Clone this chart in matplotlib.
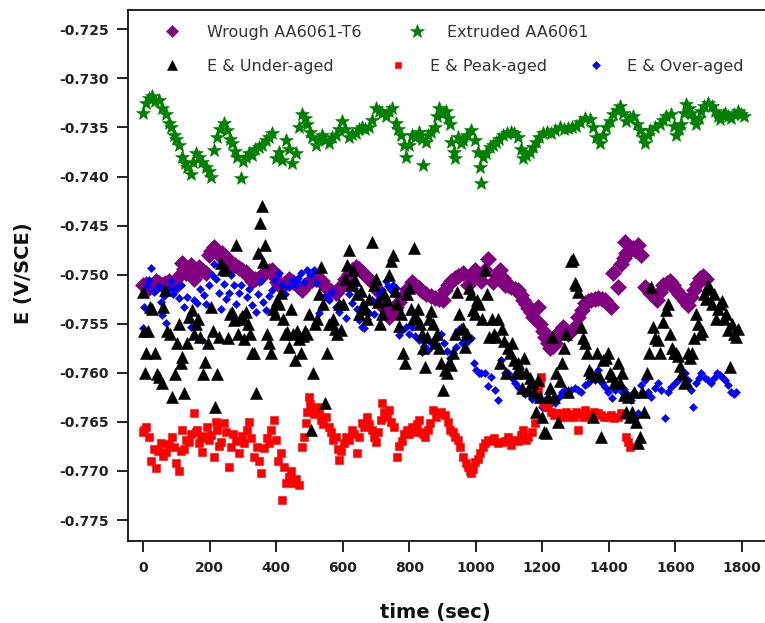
import numpy as np
import matplotlib
matplotlib.use('Agg')
import matplotlib.pyplot as plt
from matplotlib.lines import Line2D
from matplotlib.legend import Legend
from matplotlib.ticker import FormatStrFormatter

plt.rcParams['font.family'] = 'DejaVu Sans'
plt.rcParams['axes.unicode_minus'] = False

# Open-circuit potential vs time, potentials in mV vs SCE

# Wrough AA6061-T6
t_wrought = [0, 9, 18, 27, 39, 48, 57, 66, 78, 90,
             102, 111, 117, 123, 129, 137, 144, 153, 160, 168,
             178, 189, 198, 205, 213, 220, 228, 238, 249, 258,
             267, 278, 288, 298, 309, 318, 327, 338, 348, 358,
             369, 378, 387, 395, 402, 410, 417, 428, 438, 450,
             462, 470, 477, 488, 498, 508, 519, 528, 537, 545,
             552, 565, 579, 588, 597, 608, 618, 628, 639, 648,
             657, 672, 687, 702, 717, 727, 738, 748, 759, 768,
             777, 792, 807, 818, 828, 840, 852, 865, 879, 891,
             903, 909, 918, 927, 938, 948, 963, 978, 990, 999,
             1008, 1017, 1029, 1038, 1053, 1065, 1074, 1083, 1089, 1098,
             1107, 1117, 1128, 1136, 1143, 1151, 1158, 1166, 1173, 1188,
             1194, 1202, 1209, 1217, 1224, 1232, 1239, 1248, 1256, 1263,
             1270, 1278, 1290, 1299, 1308, 1318, 1329, 1338, 1347, 1358,
             1368, 1378, 1389, 1398, 1407, 1413, 1428, 1437, 1445, 1449,
             1452, 1462, 1473, 1480, 1488, 1497, 1509, 1524, 1535, 1545,
             1554, 1563, 1574, 1584, 1593, 1602, 1611, 1620, 1629, 1638,
             1647, 1656, 1665, 1674, 1683, 1692]
e_wrought = [-751.1, -750.9, -751.4, -751.0, -750.6, -750.8, -751.1, -750.8, -750.6, -750.9,
             -751.1, -750.0, -748.8, -749.4, -749.8, -749.3, -749.0, -750.4, -749.6, -749.2,
             -749.5, -749.8, -748.0, -747.6, -747.2, -747.6, -748.0, -747.8, -748.2, -748.8,
             -749.2, -749.0, -749.3, -749.5, -749.7, -750.2, -750.6, -750.4, -750.3, -750.0,
             -749.7, -749.6, -749.5, -750.1, -750.7, -751.0, -751.3, -750.8, -750.4, -750.7,
             -751.0, -751.3, -751.6, -751.1, -750.7, -750.5, -750.3, -750.4, -750.6, -751.0,
             -751.4, -751.7, -751.9, -751.5, -751.0, -750.4, -749.9, -749.5, -749.2, -749.4,
             -749.7, -750.2, -750.7, -751.6, -752.6, -753.5, -754.3, -753.8, -753.3, -752.8,
             -752.3, -751.5, -750.7, -751.1, -751.4, -751.7, -752.0, -752.2, -752.4, -752.5,
             -752.6, -751.6, -751.1, -750.6, -750.3, -750.1, -749.8, -751.0, -750.2, -749.5,
             -750.0, -750.6, -749.5, -748.4, -750.7, -750.0, -749.5, -750.3, -751.0, -751.1,
             -751.3, -751.5, -751.6, -752.1, -752.6, -753.0, -753.4, -753.8, -754.3, -753.3,
             -755.0, -755.7, -756.4, -757.0, -757.5, -757.3, -757.0, -755.9, -755.6, -755.3,
             -755.7, -756.0, -755.6, -755.3, -754.3, -753.6, -752.9, -752.7, -752.6, -752.5,
             -752.4, -752.5, -752.6, -753.0, -753.3, -749.8, -751.3, -748.9, -748.3, -746.7,
             -747.8, -747.6, -747.3, -747.5, -747.0, -748.0, -751.3, -751.9, -752.2, -752.6,
             -751.8, -751.1, -750.8, -750.6, -751.1, -751.6, -752.0, -752.3, -752.7, -753.1,
             -752.3, -751.6, -750.9, -750.3, -750.1, -750.4]

# Extruded AA6061
t_extruded = [0, 9, 18, 27, 36, 48, 57, 69, 78, 84,
              93, 99, 108, 117, 126, 132, 144, 150, 159, 168,
              177, 189, 198, 204, 213, 222, 231, 243, 252, 261,
              267, 276, 282, 294, 300, 309, 318, 327, 336, 348,
              357, 369, 378, 387, 399, 408, 417, 429, 438, 447,
              459, 468, 477, 486, 492, 501, 507, 519, 528, 537,
              546, 558, 567, 579, 588, 597, 606, 618, 627, 639,
              648, 657, 666, 678, 687, 699, 708, 717, 729, 738,
              747, 759, 765, 774, 783, 789, 798, 807, 816, 828,
              837, 843, 852, 858, 867, 879, 885, 891, 903, 912,
              918, 924, 927, 936, 939, 948, 957, 963, 975, 987,
              999, 1008, 1014, 1017, 1023, 1032, 1044, 1053, 1062, 1071,
              1083, 1095, 1107, 1116, 1128, 1137, 1143, 1152, 1164, 1173,
              1182, 1191, 1203, 1215, 1227, 1239, 1254, 1266, 1278, 1290,
              1302, 1314, 1329, 1344, 1353, 1362, 1374, 1383, 1392, 1404,
              1413, 1425, 1434, 1443, 1452, 1464, 1473, 1485, 1494, 1503,
              1509, 1518, 1524, 1539, 1554, 1563, 1572, 1587, 1596, 1602,
              1611, 1617, 1626, 1632, 1641, 1647, 1656, 1662, 1671, 1677,
              1686, 1698, 1710, 1719, 1728, 1734, 1743, 1749, 1758, 1767,
              1776, 1788, 1797, 1805]
e_extruded = [-733.5, -732.5, -732.0, -731.8, -732.3, -732.2, -733.0, -733.6, -734.5, -735.0,
              -735.8, -736.2, -736.8, -738.0, -738.6, -739.0, -739.7, -738.5, -737.6, -738.0,
              -738.5, -739.0, -739.4, -740.0, -737.3, -736.0, -735.2, -734.5, -735.3, -736.2,
              -736.6, -737.4, -738.0, -740.1, -738.4, -738.0, -737.6, -737.8, -737.2, -737.0,
              -736.8, -736.3, -736.0, -735.6, -738.1, -737.5, -738.3, -736.3, -737.2, -738.6,
              -737.6, -735.0, -733.6, -734.0, -734.6, -735.5, -736.0, -736.8, -736.2, -735.8,
              -736.3, -736.6, -736.0, -735.8, -735.2, -734.3, -735.2, -736.0, -735.7, -735.6,
              -735.2, -735.0, -735.2, -735.0, -734.2, -733.0, -733.3, -733.5, -733.8, -733.3,
              -733.0, -734.5, -735.2, -735.8, -736.8, -738.0, -736.8, -735.8, -736.0, -735.5,
              -736.2, -738.8, -736.5, -735.8, -735.5, -735.0, -733.8, -733.0, -733.5, -733.3,
              -734.0, -734.6, -736.5, -737.5, -738.1, -736.0, -736.6, -736.3, -735.8, -735.3,
              -736.3, -737.5, -739.0, -740.7, -738.0, -737.6, -737.0, -736.8, -736.5, -736.2,
              -735.8, -735.6, -735.5, -735.6, -736.0, -737.2, -738.1, -737.8, -737.5, -737.0,
              -736.5, -736.0, -735.6, -735.5, -735.6, -735.3, -735.0, -735.2, -735.1, -735.0,
              -734.8, -734.4, -734.0, -734.1, -735.0, -736.0, -736.6, -735.8, -735.0, -734.3,
              -733.6, -733.2, -732.8, -733.5, -734.3, -734.0, -733.8, -734.6, -735.3, -736.0,
              -736.6, -735.8, -735.3, -735.0, -734.6, -734.2, -733.8, -733.6, -734.8, -735.8,
              -735.2, -734.6, -733.5, -732.6, -733.0, -733.5, -734.0, -734.6, -734.0, -733.3,
              -732.8, -732.5, -732.8, -733.3, -733.8, -734.1, -733.7, -733.5, -733.8, -734.0,
              -733.6, -733.3, -733.6, -733.8]

# E & Under-aged
t_under = [0, 2, 6, 9, 15, 21, 27, 36, 42, 48,
           57, 60, 66, 72, 81, 87, 96, 102, 108, 114,
           117, 123, 132, 138, 147, 153, 159, 165, 172, 180,
           186, 195, 204, 210, 216, 222, 228, 234, 240, 249,
           255, 261, 267, 273, 279, 285, 291, 297, 303, 309,
           315, 321, 327, 333, 339, 345, 351, 357, 360, 366,
           372, 378, 384, 390, 396, 402, 408, 414, 420, 426,
           432, 438, 444, 450, 456, 462, 468, 474, 480, 486,
           492, 498, 504, 510, 516, 522, 528, 534, 540, 546,
           552, 558, 564, 570, 576, 582, 588, 594, 600, 606,
           612, 618, 624, 630, 636, 642, 648, 654, 660, 666,
           672, 678, 687, 693, 699, 705, 711, 717, 723, 732,
           738, 744, 750, 756, 762, 768, 774, 780, 786, 792,
           798, 804, 810, 813, 819, 825, 831, 837, 843, 849,
           855, 861, 867, 873, 879, 885, 891, 897, 903, 909,
           915, 921, 927, 933, 939, 945, 951, 957, 963, 969,
           975, 981, 987, 993, 999, 1005, 1011, 1020, 1029, 1035,
           1041, 1050, 1056, 1062, 1068, 1074, 1080, 1086, 1092, 1098,
           1104, 1110, 1116, 1122, 1128, 1134, 1140, 1146, 1152, 1158,
           1164, 1170, 1176, 1182, 1188, 1194, 1200, 1206, 1212, 1218,
           1224, 1230, 1236, 1242, 1248, 1254, 1260, 1266, 1272, 1278,
           1287, 1293, 1299, 1302, 1308, 1317, 1323, 1329, 1335, 1341,
           1347, 1353, 1359, 1365, 1371, 1377, 1383, 1392, 1398, 1404,
           1410, 1416, 1422, 1428, 1434, 1440, 1446, 1452, 1458, 1464,
           1470, 1476, 1482, 1488, 1494, 1500, 1506, 1515, 1521, 1527,
           1533, 1539, 1548, 1554, 1563, 1572, 1578, 1584, 1590, 1596,
           1602, 1608, 1614, 1620, 1626, 1632, 1638, 1644, 1650, 1656,
           1662, 1668, 1674, 1680, 1686, 1692, 1698, 1704, 1710, 1716,
           1722, 1728, 1734, 1740, 1746, 1752, 1758, 1764, 1770, 1776,
           1782, 1788]
e_under = [-751.8, -755.7, -760.0, -758.0, -755.7, -753.3, -753.5, -758.0, -760.1, -760.4,
           -761.0, -753.3, -751.6, -755.7, -756.0, -762.5, -760.1, -757.0, -755.0, -759.0,
           -758.4, -762.1, -757.0, -754.3, -753.6, -756.0, -755.0, -754.5, -756.3, -760.1,
           -758.9, -757.0, -753.3, -755.7, -763.5, -760.1, -756.3, -748.8, -749.4, -749.5,
           -756.5, -754.0, -753.8, -754.6, -747.0, -756.0, -754.5, -754.2, -756.6, -753.8,
           -755.0, -756.0, -758.0, -758.0, -762.1, -747.8, -744.7, -743.0, -748.7, -747.0,
           -756.0, -757.0, -758.0, -753.5, -754.0, -752.6, -753.0, -751.9, -754.5, -756.0,
           -755.8, -757.4, -753.5, -756.0, -758.7, -755.7, -756.6, -758.0, -756.2, -755.7,
           -756.0, -754.0, -765.8, -760.0, -755.0, -754.5, -752.0, -749.2, -753.0, -763.1,
           -758.0, -755.0, -755.0, -754.5, -755.5, -756.0, -753.0, -755.6, -753.0, -750.4,
           -749.0, -747.5, -751.0, -749.5, -750.5, -752.0, -754.0, -751.7, -753.0, -753.5,
           -754.5, -752.5, -746.7, -751.0, -750.4, -752.8, -755.0, -754.0, -752.0, -752.6,
           -750.0, -748.6, -748.0, -751.7, -753.0, -755.2, -754.0, -758.0, -759.0, -752.0,
           -751.4, -753.5, -754.5, -747.3, -754.3, -753.5, -755.0, -756.0, -757.5, -759.4,
           -756.3, -754.5, -753.7, -755.0, -757.0, -756.0, -757.5, -759.0, -761.7, -759.7,
           -760.0, -759.0, -759.2, -758.0, -756.0, -751.8, -754.0, -755.5, -755.4, -757.4,
           -756.0, -751.4, -752.0, -753.6, -754.0, -752.6, -753.0, -754.5, -749.5, -752.0,
           -756.3, -754.5, -756.0, -756.3, -754.5, -759.0, -755.5, -756.8, -760.0, -757.5,
           -758.0, -757.0, -758.7, -760.0, -759.0, -759.7, -761.5, -758.5, -760.0, -761.7,
           -760.5, -761.0, -762.0, -764.0, -760.7, -762.5, -764.5, -766.0, -766.1, -762.5,
           -761.5, -756.3, -762.5, -760.0, -765.0, -760.8, -759.0, -757.5, -756.0, -762.0,
           -748.6, -748.4, -750.8, -751.0, -751.8, -755.3, -756.5, -757.0, -758.0, -759.7,
           -760.0, -764.5, -760.3, -758.0, -760.3, -766.5, -758.7, -758.5, -758.0, -760.0,
           -760.3, -761.0, -761.0, -759.0, -761.0, -760.0, -762.3, -764.0, -762.5, -764.5,
           -764.0, -762.0, -765.0, -767.2, -766.5, -762.0, -764.0, -760.0, -758.0, -751.3,
           -755.3, -756.5, -756.7, -758.0, -754.8, -753.6, -753.0, -756.0, -757.5, -758.0,
           -758.0, -758.3, -759.3, -760.0, -761.0, -760.8, -758.0, -758.5, -758.0, -756.5,
           -754.0, -755.0, -756.0, -755.7, -752.0, -752.5, -751.0, -751.5, -753.0, -752.0,
           -754.5, -753.5, -753.0, -752.7, -754.5, -754.0, -755.6, -759.4, -755.0, -756.0,
           -756.4, -755.5]

# E & Peak-aged
t_peak = [0, 3, 9, 18, 24, 33, 39, 45, 54, 60,
          69, 78, 87, 93, 99, 108, 113, 117, 123, 130,
          138, 145, 153, 158, 162, 168, 174, 177, 184, 192,
          198, 204, 213, 218, 222, 228, 234, 243, 250, 258,
          264, 272, 279, 288, 297, 305, 312, 318, 324, 333,
          342, 348, 354, 363, 372, 378, 384, 393, 400, 407,
          414, 417, 423, 429, 438, 444, 453, 460, 468, 477,
          483, 489, 494, 498, 502, 507, 513, 522, 528, 534,
          541, 549, 558, 565, 572, 579, 585, 588, 596, 603,
          609, 618, 627, 634, 642, 649, 657, 664, 672, 680,
          687, 693, 699, 706, 714, 717, 725, 732, 738, 746,
          753, 762, 770, 777, 785, 792, 800, 807, 815, 822,
          828, 836, 843, 849, 857, 864, 873, 880, 888, 897,
          909, 916, 924, 931, 939, 947, 954, 963, 970, 978,
          983, 987, 993, 999, 1006, 1014, 1021, 1029, 1038, 1047,
          1056, 1068, 1078, 1089, 1098, 1107, 1117, 1128, 1136, 1143,
          1150, 1158, 1168, 1179, 1188, 1193, 1197, 1203, 1210, 1218,
          1226, 1234, 1242, 1248, 1256, 1264, 1271, 1278, 1286, 1294,
          1302, 1308, 1315, 1322, 1329, 1338, 1347, 1356, 1368, 1377,
          1386, 1398, 1407, 1416, 1428, 1436, 1443, 1452, 1458, 1464]
e_peak = [-766.0, -765.8, -765.5, -766.5, -769.0, -767.8, -769.7, -768.0, -767.2, -768.5,
          -768.1, -767.3, -766.5, -767.6, -769.2, -770.0, -768.0, -765.8, -767.8, -766.8,
          -767.1, -766.2, -764.1, -766.0, -765.8, -767.2, -766.6, -768.1, -766.4, -765.5,
          -766.8, -766.3, -768.6, -765.0, -765.8, -767.5, -767.0, -765.1, -766.0, -769.6,
          -767.6, -766.2, -766.9, -768.2, -766.4, -767.2, -765.8, -765.0, -766.6, -768.6,
          -767.6, -769.0, -770.2, -767.7, -766.6, -767.2, -765.8, -764.8, -766.8, -769.0,
          -768.2, -773.0, -769.6, -771.2, -770.6, -770.0, -771.2, -770.8, -771.4, -767.6,
          -766.5, -765.1, -764.0, -762.5, -763.2, -763.8, -764.2, -763.5, -764.0, -764.8,
          -765.2, -764.5, -765.5, -766.0, -766.8, -766.5, -767.8, -768.9, -768.0, -767.2,
          -766.5, -766.8, -765.8, -766.2, -768.2, -766.5, -765.1, -765.5, -764.5, -765.2,
          -765.8, -766.5, -767.1, -766.0, -764.8, -763.1, -764.0, -764.5, -763.8, -765.0,
          -765.5, -768.6, -767.5, -766.9, -766.2, -765.8, -766.2, -765.5, -766.0, -765.2,
          -764.8, -766.0, -766.2, -766.5, -765.8, -765.1, -763.8, -764.5, -764.1, -764.0,
          -764.3, -765.0, -765.8, -766.0, -766.5, -766.8, -767.6, -768.6, -769.2, -769.6,
          -770.0, -770.2, -769.8, -769.1, -768.8, -768.2, -767.6, -767.2, -766.8, -766.9,
          -766.6, -767.2, -767.0, -766.9, -766.5, -767.4, -766.8, -766.9, -766.3, -765.8,
          -766.8, -766.5, -766.0, -765.1, -761.7, -761.0, -760.4, -763.1, -763.5, -763.5,
          -764.0, -764.3, -764.1, -764.1, -764.5, -764.2, -764.0, -764.5, -764.2, -764.5,
          -764.0, -765.8, -764.1, -764.5, -763.8, -764.2, -764.5, -764.0, -764.1, -764.3,
          -764.5, -764.5, -764.3, -764.6, -764.5, -764.1, -764.3, -766.5, -767.0, -767.6]

# E & Over-aged
t_over = [0, 3, 12, 18, 24, 33, 39, 48, 54, 57,
          63, 69, 78, 84, 90, 99, 108, 115, 123, 132,
          138, 144, 153, 162, 170, 177, 183, 190, 198, 207,
          213, 219, 228, 235, 243, 250, 258, 265, 273, 280,
          288, 296, 304, 312, 320, 327, 339, 346, 354, 361,
          369, 378, 387, 396, 408, 417, 428, 438, 447, 459,
          466, 474, 483, 492, 502, 513, 521, 528, 537, 546,
          558, 568, 579, 588, 597, 609, 618, 627, 633, 642,
          648, 657, 663, 672, 678, 687, 694, 702, 710, 717,
          729, 737, 744, 752, 759, 768, 778, 789, 798, 807,
          817, 828, 837, 846, 858, 867, 879, 888, 897, 906,
          915, 924, 933, 942, 951, 960, 969, 978, 987, 996,
          1002, 1010, 1017, 1029, 1038, 1047, 1059, 1068, 1077, 1089,
          1098, 1108, 1119, 1128, 1137, 1148, 1158, 1170, 1179, 1188,
          1198, 1208, 1218, 1228, 1239, 1249, 1259, 1268, 1278, 1287,
          1298, 1308, 1317, 1328, 1338, 1348, 1359, 1368, 1378, 1389,
          1398, 1410, 1419, 1428, 1438, 1446, 1456, 1467, 1476, 1482,
          1488, 1497, 1509, 1518, 1528, 1538, 1548, 1558, 1569, 1578,
          1587, 1598, 1608, 1618, 1629, 1638, 1647, 1653, 1662, 1670,
          1677, 1688, 1698, 1707, 1716, 1725, 1734, 1742, 1749, 1758,
          1767, 1775, 1782]
e_over = [-755.4, -753.3, -751.2, -750.5, -749.3, -751.8, -751.6, -751.2, -752.8, -754.1,
          -752.2, -754.9, -751.5, -750.6, -752.0, -751.4, -752.4, -751.0, -753.3, -752.3,
          -754.5, -755.3, -752.6, -752.9, -751.5, -756.7, -752.1, -753.0, -751.1, -750.0,
          -748.9, -750.4, -751.9, -753.5, -750.9, -752.5, -751.9, -750.0, -751.1, -753.0,
          -751.9, -751.0, -754.0, -752.3, -751.5, -753.1, -753.8, -752.0, -750.6, -752.8,
          -753.6, -752.2, -751.6, -750.5, -749.8, -751.1, -752.0, -751.3, -750.5, -751.1,
          -750.3, -749.8, -750.7, -749.5, -750.0, -749.5, -750.8, -753.9, -753.3, -752.2,
          -752.6, -751.8, -753.3, -753.8, -753.0, -754.4, -752.0, -752.9, -751.4, -753.5,
          -754.6, -755.3, -755.4, -754.5, -753.9, -752.6, -754.0, -752.8, -752.0, -751.6,
          -750.6, -751.2, -751.6, -751.0, -751.4, -756.1, -755.6, -755.3, -756.0, -755.3,
          -756.2, -756.7, -757.9, -757.3, -757.7, -757.0, -756.7, -756.4, -756.0, -757.0,
          -757.8, -758.5, -758.0, -757.4, -755.5, -757.0, -756.4, -756.8, -756.5, -759.0,
          -759.7, -760.0, -760.0, -760.0, -761.3, -760.4, -761.7, -762.8, -758.7, -760.0,
          -760.0, -760.5, -761.0, -761.4, -761.7, -762.2, -762.0, -762.7, -762.5, -762.5,
          -763.5, -762.8, -763.3, -763.0, -763.1, -762.5, -762.0, -761.8, -762.0, -761.7,
          -761.5, -761.7, -762.0, -761.2, -761.0, -760.5, -760.7, -759.7, -761.0, -761.4,
          -762.0, -762.6, -761.7, -761.2, -762.0, -761.6, -762.2, -762.8, -762.0, -764.5,
          -764.1, -761.2, -760.7, -762.0, -762.5, -761.5, -761.0, -761.8, -764.6, -762.0,
          -761.4, -761.0, -760.7, -760.3, -760.0, -760.7, -761.7, -763.5, -761.0, -760.5,
          -760.0, -760.5, -760.7, -761.0, -760.5, -760.0, -760.2, -760.5, -760.7, -761.2,
          -762.0, -762.2, -762.0]

labels = ['Wrough AA6061-T6', 'Extruded AA6061', 'E & Under-aged',
          'E & Peak-aged', 'E & Over-aged']

# marker style per series: (marker, size on plot, size in legend, colour)
styles = {
    'wrought': ('D', 8.0, 6.5, '#800080'),
    'extruded': ('*', 10.5, 10.0, '#008000'),
    'under': ('^', 8.0, 7.0, '#000000'),
    'peak': ('s', 5.5, 5.0, '#ff0000'),
    'over': ('D', 4.3, 4.0, '#0000ff'),
}

fig = plt.figure(figsize=(7.65, 6.23), dpi=100)
ax = fig.add_axes([0.1673, 0.1316, 0.8374, 0.8523])


def mv_to_v(vals):
    return np.array(vals) / 1000.0


series = [
    ('extruded', t_extruded, e_extruded),
    ('wrought', t_wrought, e_wrought),
    ('over', t_over, e_over),
    ('peak', t_peak, e_peak),
    ('under', t_under, e_under),
]
for key, t, e in series:
    m, ms, _, c = styles[key]
    ax.plot(t, mv_to_v(e), ls='none', marker=m, ms=ms, color=c,
            mec=c, mew=0.4)

ax.set_xlim(-45, 1880)
ax.set_ylim(-0.77714, -0.72303)
ax.set_xticks(range(0, 1801, 200))
ax.set_yticks(np.arange(-0.775, -0.7249, 0.005))
ax.yaxis.set_major_formatter(FormatStrFormatter('%.3f'))

for s in ax.spines.values():
    s.set_linewidth(1.3)
    s.set_color('#111111')
ax.spines['right'].set_visible(False)
ax.tick_params(direction='out', length=8, width=1.3, color='#111111',
               labelcolor='#222222', labelsize=10)
ax.tick_params(axis='x', pad=6.5)
ax.tick_params(axis='y', pad=5.5)
for lbl in ax.get_xticklabels() + ax.get_yticklabels():
    lbl.set_fontweight('bold')

ax.set_xlabel('time (sec)', fontsize=14, fontweight='bold', color='#111111')
ax.set_ylabel('E (V/SCE)', fontsize=14, fontweight='bold', color='#111111')
ax.xaxis.set_label_coords(0.4794, -0.117)
ax.yaxis.set_label_coords(-0.1478, 0.505)

# one legend per entry so each sits where it belongs
legend_spots = [
    ('wrought', labels[0], 0.0562, 0.9586, 1.69),
    ('extruded', labels[1], 0.4386, 0.9586, 1.38),
    ('under', labels[2], 0.0562, 0.8945, 1.69),
    ('peak', labels[3], 0.4090, 0.8945, 1.50),
    ('over', labels[4], 0.7181, 0.8945, 1.44),
]
for key, lab, lx, ly, pad in legend_spots:
    m, _, lms, c = styles[key]
    h = Line2D([], [], ls='none', marker=m, ms=lms, color=c, mec=c, mew=0.4)
    leg = Legend(ax, [h], [lab], loc='center left', bbox_to_anchor=(lx, ly),
                 frameon=False, handlelength=1.0, handletextpad=pad,
                 borderpad=0, borderaxespad=0, numpoints=1,
                 prop={'size': 11.5}, labelcolor='#333333')
    ax.add_artist(leg)

fig.savefig('out.png', dpi=100)
